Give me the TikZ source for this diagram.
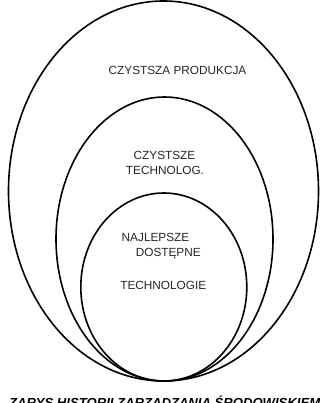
\documentclass[tikz,border=0pt]{standalone}
\usepackage{fontspec}
\setmainfont{Liberation Sans}
\usepackage{tikz}

\begin{document}
\begin{tikzpicture}[
        x=1pt, y=-1pt,
        ring/.style={
            draw=black,
            line width=1.6pt
        },
        label/.style={
            anchor=base,
            inner sep=0pt,
            text=black!85,
            font=\fontsize{11.8}{14}\selectfont
        },
        caption/.style={
            anchor=base west,
            inner sep=0pt,
            font=\fontsize{13.1}{15}\selectfont\bfseries\itshape
        }
    ]
        \useasboundingbox (0,0) rectangle (320,403);

        % Centres of the three rings
        \coordinate (outerc) at (163.5, 191);
        \coordinate (midc) at (164.5, 239);
        \coordinate (innerc) at (163.8, 287);

        \draw[ring] (outerc) ellipse [x radius=155, y radius=190];
        \draw[ring] (midc) ellipse [x radius=108.5, y radius=142];
        \draw[ring] (innerc) ellipse [x radius=83, y radius=94];

        % Labels
        \node[label] (prod) at (177.5, 74.5) {CZYSTSZA PRODUKCJA};
        \node[label] (cz) at (164.5, 159.3) {CZYSTSZE};
        \node[label] (tech) at (165, 174.3) {TECHNOLOG.};
        \node[label] (best) at (155.5, 241) {NAJLEPSZE};
        \node[label] (avail) at (168.3, 256) {DOSTĘPNE};
        \node[label] (techs) at (163.3, 289.3) {TECHNOLOGIE};

        % Caption, cut by the page edge
        \node[caption] (title) at (9, 407.5) {ZARYS HISTORII ZARZĄDZANIA ŚRODOWISKIEM};
    \end{tikzpicture}
\end{document}
